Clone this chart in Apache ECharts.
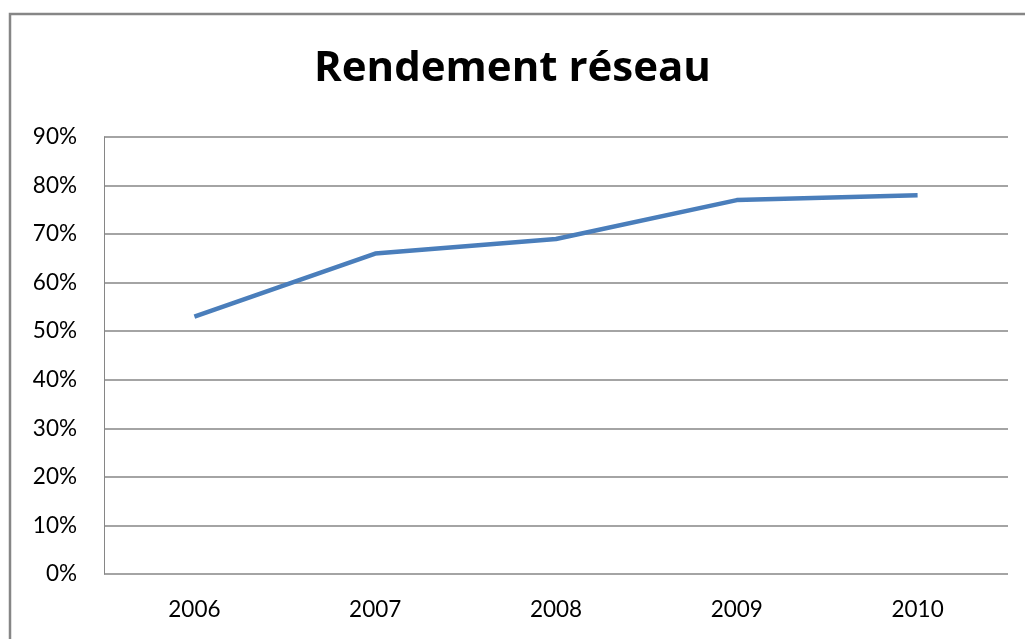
<html>
<head>
	<meta charset="UTF-8">
	<script src="https://cdn.jsdelivr.net/npm/echarts@6/dist/echarts.min.js"></script>
</head>
<body style="margin:0;background:#fff;">
<div id="chart" style="width:1025px;height:639px;"></div>
<script type="text/javascript">
        // années et rendement (en %)
        var years = ['2006', '2007', '2008', '2009', '2010'];
        var rendement = [53, 66, 69, 77, 78];
        var yTicks = [0, 10, 20, 30, 40, 50, 60, 70, 80, 90];

        var myChart = echarts.init(document.getElementById('chart'));

        var option = {
            backgroundColor: '#fff',
            animation: false,
            title: {
                text: 'Rendement réseau',
                left: 'center',
                top: 43,
                textStyle: {
                    fontFamily: 'Open Sans',
                    fontWeight: 'bold',
                    fontSize: 42,
                    color: '#000'
                }
            },
            // cadre du graphique (coupé à droite et en bas)
            graphic: [{
                type: 'rect',
                shape: { x: 10, y: 14, width: 1100, height: 700 },
                style: { fill: 'none', stroke: '#868686', lineWidth: 2.5 },
                silent: true
            }],
            grid: { left: 104, right: 17, top: 137, bottom: 65 },
            xAxis: {
                type: 'category',
                data: years,
                boundaryGap: true,
                axisLine: { show: false },
                axisTick: { show: false },
                axisLabel: { margin: 24, fontFamily: 'Lato', fontSize: 22.5, color: '#000' }
            },
            yAxis: {
                type: 'value',
                min: yTicks[0],
                max: yTicks[yTicks.length - 1],
                interval: 10,
                axisLine: { show: true, lineStyle: { color: '#868686', width: 1 } },
                axisTick: { show: false },
                axisLabel: {
                    margin: 27,
                    fontFamily: 'Lato',
                    fontSize: 22.5,
                    color: '#000',
                    formatter: function (v) { return v + '%'; }
                },
                splitLine: { lineStyle: { color: '#868686', width: 1.5 } }
            },
            series: [{
                type: 'line',
                data: rendement,
                symbol: 'none',
                lineStyle: { color: '#4a7ebb', width: 4.5 }
            }]
        };

        myChart.setOption(option);
</script>
</body>
</html>
